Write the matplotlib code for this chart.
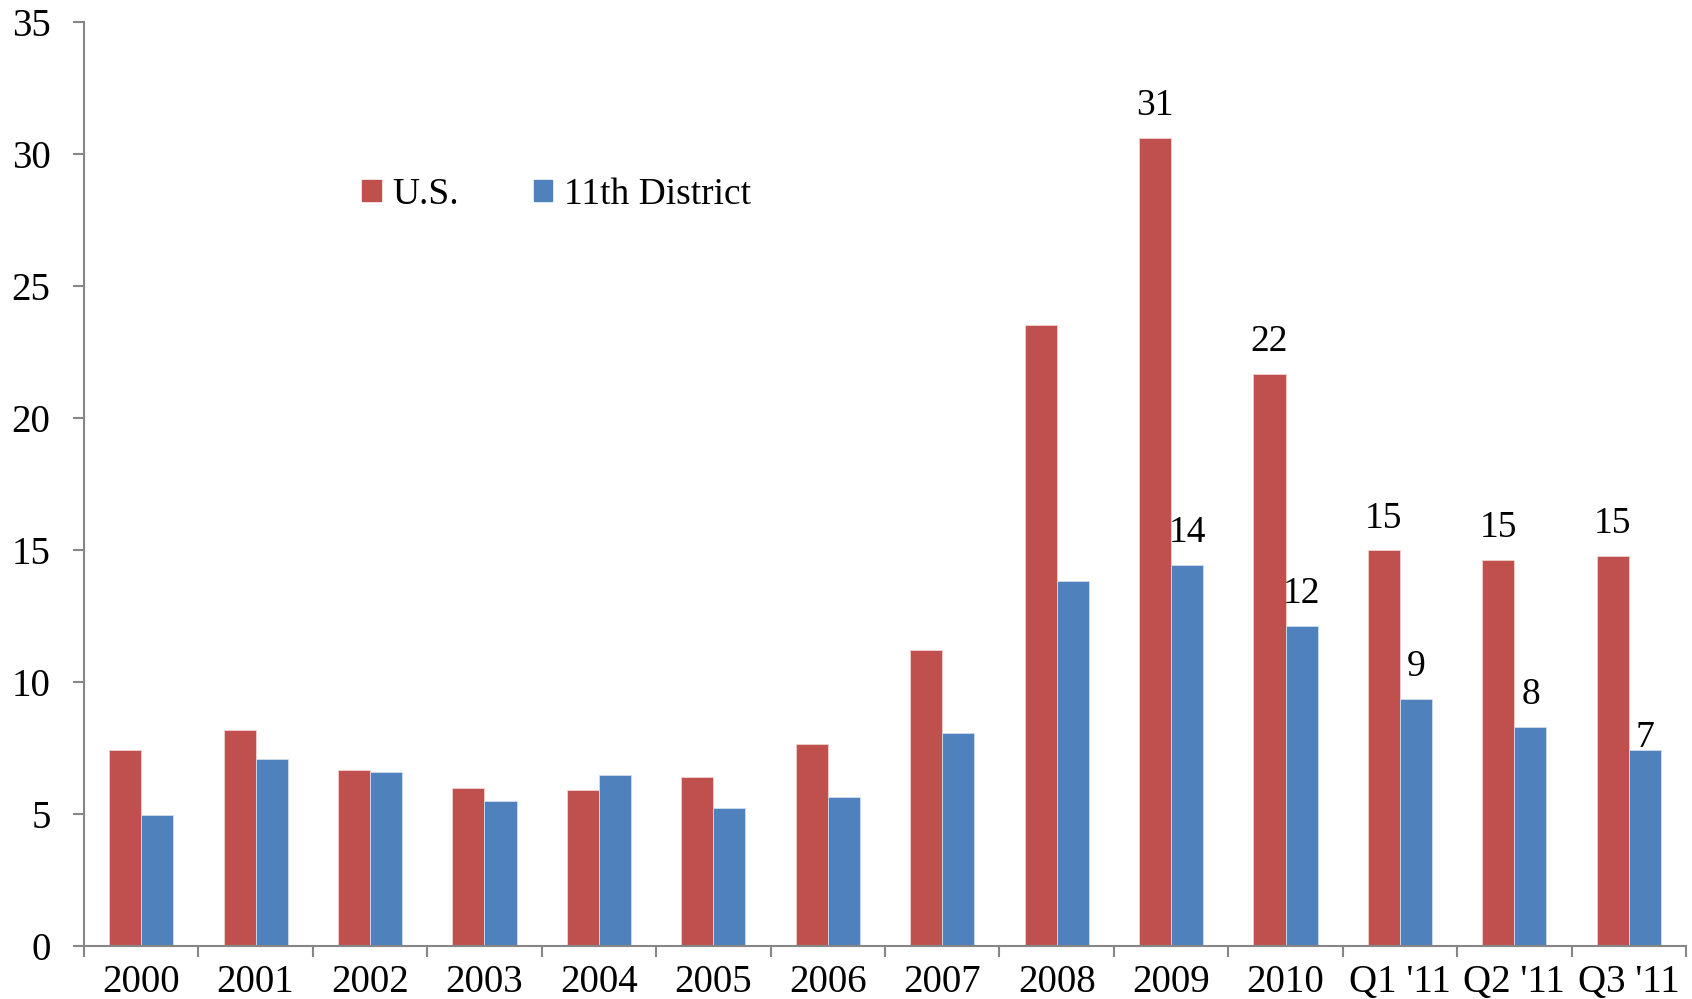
import numpy as np
import matplotlib.pyplot as plt
from matplotlib.patches import Patch

categories = ['2000', '2001', '2002', '2003', '2004', '2005', '2006', '2007',
              '2008', '2009', '2010', "Q1 '11", "Q2 '11", "Q3 '11"]
us = [7.43, 8.17, 6.66, 6.0, 5.92, 6.41, 7.64, 11.23, 23.52, 30.62, 21.68, 14.99, 14.62, 14.78]
district = [4.98, 7.1, 6.6, 5.51, 6.49, 5.23, 5.63, 8.08, 13.84, 14.45, 12.13, 9.35, 8.29, 7.43]

# value labels by category index
us_labels = {9: '31', 10: '22', 11: '15', 12: '15', 13: '15'}
district_labels = {9: '14', 10: '12', 11: '9', 12: '8', 13: '7'}

red = '#C0504D'
blue = '#4F81BD'
grey = '#868686'

plt.rcParams['font.family'] = ['Liberation Serif', 'DejaVu Serif']

fig = plt.figure(figsize=(16.92, 9.99), dpi=100)
ax = fig.add_axes([0.0496, 0.053, 0.9469, 0.925])

x = np.arange(len(categories))
w = 0.28
ax.bar(x - w / 2, us, width=w, color=red, edgecolor='#f0d0d0', linewidth=0.6)
ax.bar(x + w / 2, district, width=w, color=blue, edgecolor='#d0dcec', linewidth=0.6)

for i, t in us_labels.items():
    ax.annotate(t, (x[i] - w / 2, us[i]), xytext=(0, 23), textcoords='offset points',
                ha='center', va='center', fontsize=27)
for i, t in district_labels.items():
    off = 9 if t == '7' else 23
    ax.annotate(t, (x[i] + w / 2, district[i]), xytext=(0, off), textcoords='offset points',
                ha='center', va='center', fontsize=27)

ax.set_xlim(-0.5, len(categories) - 0.5)
ax.set_ylim(0, 35)
ax.set_yticks(np.arange(0, 36, 5))
ax.set_xticks(x)
ax.set_xticklabels(categories)
ax.set_xticks(np.arange(-0.5, len(categories), 1), minor=True)
ax.tick_params(axis='x', which='major', length=0, labelsize=28, pad=13)
ax.tick_params(axis='x', which='minor', length=8, width=1.5, color=grey, direction='out')
ax.tick_params(axis='y', length=8, width=1.5, color=grey, labelsize=28, pad=16)

for s in ['top', 'right']:
    ax.spines[s].set_visible(False)
for s in ['left', 'bottom']:
    ax.spines[s].set_color(grey)
    ax.spines[s].set_linewidth(1.5)

handles = [Patch(color=red), Patch(color=blue)]
ax.legend(handles, ['U.S.', '11th District'], loc='center left',
          bbox_to_anchor=(0.1735, 0.813), ncol=2, frameon=False, fontsize=27,
          handlelength=0.5, handleheight=0.5, handletextpad=0.3,
          columnspacing=2.0, borderpad=0, borderaxespad=0)

fig.savefig('out.png', dpi=100)
